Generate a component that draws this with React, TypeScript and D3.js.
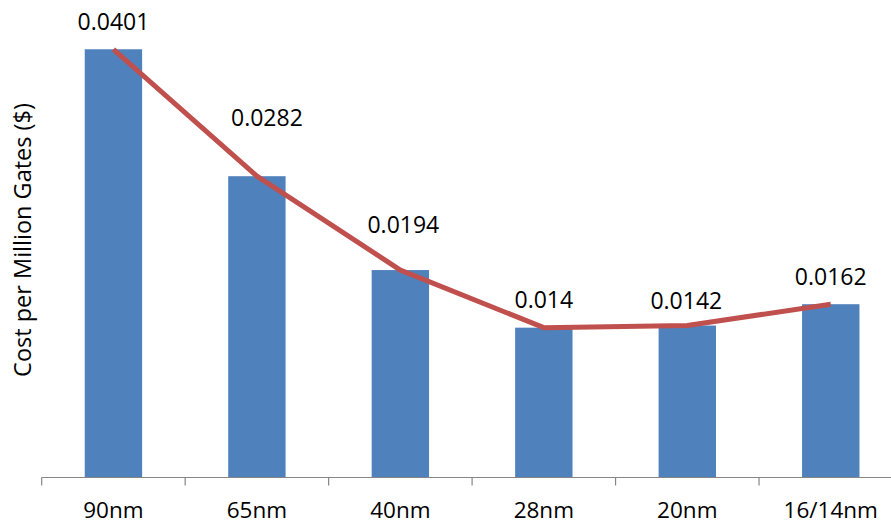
import React from "react";
import * as d3 from "d3";

const categories: string[] = ["90nm", "65nm", "40nm", "28nm", "20nm", "16/14nm"];
const costValues: number[] = [0.0401, 0.0282, 0.0194, 0.014, 0.0142, 0.0162];
const valueLabels: string[] = ["0.0401", "0.0282", "0.0194", "0.014", "0.0142", "0.0162"];
const yAxisTitle = "Cost per Million Gates ($)";

// layout-only offsets for the data labels (dx, dy of baseline from point)
const labelDx: number[] = [0, 10, 3, 0, -1, 0];
const labelDy: number[] = [-19, -50, -37, -20, -17, -19];

const W = 891;
const H = 522;
const FONT = "'Open Sans', 'DejaVu Sans', sans-serif";

export default function App() {
  const x = d3
    .scaleBand<string>()
    .domain(categories)
    .range([41.7, 902.5])
    .paddingInner(0.6)
    .paddingOuter(0.3);
  const y = d3.scaleLinear().domain([0, 0.045]).range([477, -3]);
  const step = x.step();
  const cx = (c: string) => (x(c) as number) + x.bandwidth() / 2;

  const line = d3
    .line<number>()
    .x((_, i) => cx(categories[i]))
    .y((d) => y(d));

  const axisY = 477.5;
  const tickXs = categories.map((_, i) => 41.7 + i * step);

  return (
    <div style={{ position: "absolute", left: 0, top: 0 }}>
      <svg width={W} height={H} style={{ display: "block", background: "#fff" }}>
        {categories.map((c, i) => (
          <rect
            key={c}
            x={x(c)}
            y={y(costValues[i])}
            width={x.bandwidth()}
            height={y(0) - y(costValues[i])}
            fill="#4F81BD"
          />
        ))}
        <line x1={41.7} x2={W} y1={axisY} y2={axisY} stroke="#868686" strokeWidth={1.2} />
        {tickXs.map((t, i) => (
          <line key={i} x1={t} x2={t} y1={axisY} y2={axisY + 8} stroke="#868686" strokeWidth={1.2} />
        ))}
        <path
          d={line(costValues) || ""}
          fill="none"
          stroke="#C0504D"
          strokeWidth={5}
          strokeLinejoin="round"
          strokeLinecap="butt"
        />
        {categories.map((c, i) => (
          <text
            key={c}
            x={cx(c) + labelDx[i]}
            y={y(costValues[i]) + labelDy[i]}
            textAnchor="middle"
            fontFamily={FONT}
            fontSize={23}
            fill="#000"
          >
            {valueLabels[i]}
          </text>
        ))}
        {categories.map((c) => (
          <text
            key={c}
            x={cx(c)}
            y={517.5}
            textAnchor="middle"
            fontFamily={FONT}
            fontSize={22.5}
            fill="#000"
          >
            {c}
          </text>
        ))}
        <text
          transform={`translate(31,240) rotate(-90)`}
          textAnchor="middle"
          fontFamily={FONT}
          fontSize={23.5}
          fill="#000"
        >
          {yAxisTitle}
        </text>
      </svg>
    </div>
  );
}
